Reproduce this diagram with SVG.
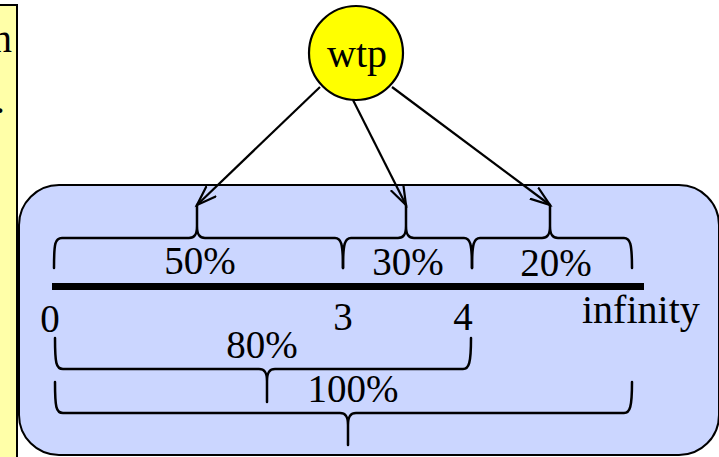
<svg xmlns="http://www.w3.org/2000/svg" width="719" height="457" viewBox="0 0 719 457">
<style>
text{font-family:"Liberation Serif","Times New Roman",serif;fill:#000}
.lbl{font-size:39px;text-anchor:middle}
.brace{fill:none;stroke:#000;stroke-width:2.5;stroke-linecap:round;stroke-linejoin:round}
.edge{fill:none;stroke:#000;stroke-width:2.2}
</style>
<defs>
<marker id="ah" markerUnits="userSpaceOnUse" markerWidth="24" markerHeight="18" refX="20" refY="8" orient="auto">
<path d="M0,1 L20,8 L0,15" fill="none" stroke="#000" stroke-width="2.2"/>
</marker>
</defs>
<rect width="719" height="457" fill="#fff"/>
<g id="note">
<rect x="-10" y="5" width="27" height="470" fill="#ffffa8" stroke="#000" stroke-width="2"/>
<text x="-8" y="52" style="font-size:40px">n</text>
<text x="5" y="113" style="font-size:40px;text-anchor:end">.</text>
</g>
<g id="range">
<rect x="19" y="185" width="700" height="270" rx="40" ry="40" fill="#cbd6ff" stroke="#000" stroke-width="2"/>
<line x1="52" y1="286.5" x2="644" y2="286.5" stroke="#000" stroke-width="7"/>
<text class="lbl" x="50" y="332">0</text>
<text class="lbl" x="343" y="330">3</text>
<text class="lbl" x="463" y="330">4</text>
<text x="582" y="323" style="font-size:40px">infinity</text>
<path class="brace" d="M54,268 C54,243 55,238 62,238 L189,238 C195,238 197,234 197,226 L197,205 M197,226 C197,234 199,238 205,238 L335,238 C341,238 343,243 343,268"/>
<text class="lbl" x="200" y="274">50%</text>
<path class="brace" d="M343,268 C343,243 345,238 351,238 L398,238 C404,238 406,234 406,226 L406,205 M406,226 C406,234 408,238 414,238 L464,238 C470,238 472,243 472,268"/>
<text class="lbl" x="408" y="275">30%</text>
<path class="brace" d="M472,268 C472,243 474,238 480,238 L542,238 C548,238 550,234 550,226 L550,205 M550,226 C550,234 552,238 558,238 L624,238 C630,238 632,243 632,268"/>
<text class="lbl" x="556" y="276">20%</text>
<path class="brace" d="M55,338 C55,363 56,369 63,369 L259,369 C265,369 267,373 267,381 L267,402 M267,381 C267,373 269,369 275,369 L463,369 C469,369 471,363 471,338"/>
<text class="lbl" x="262" y="358">80%</text>
<path class="brace" d="M55,382 C55,407 56,413 63,413 L340,413 C346,413 348,417 348,425 L348,445 M348,425 C348,417 350,413 356,413 L624,413 C630,413 632,407 632,382"/>
<text class="lbl" x="353" y="402">100%</text>
</g>
<g id="wtp">
<circle cx="356" cy="53" r="47" fill="#ffff00" stroke="#000" stroke-width="2.2"/>
<text x="357" y="67" style="font-size:40px;text-anchor:middle">wtp</text>
</g>
<g id="connectors">
<line class="edge" x1="320" y1="87" x2="197" y2="205" marker-end="url(#ah)"/>
<line class="edge" x1="353" y1="100" x2="406" y2="205" marker-end="url(#ah)"/>
<line class="edge" x1="392" y1="87" x2="550" y2="205" marker-end="url(#ah)"/>
</g>
</svg>
